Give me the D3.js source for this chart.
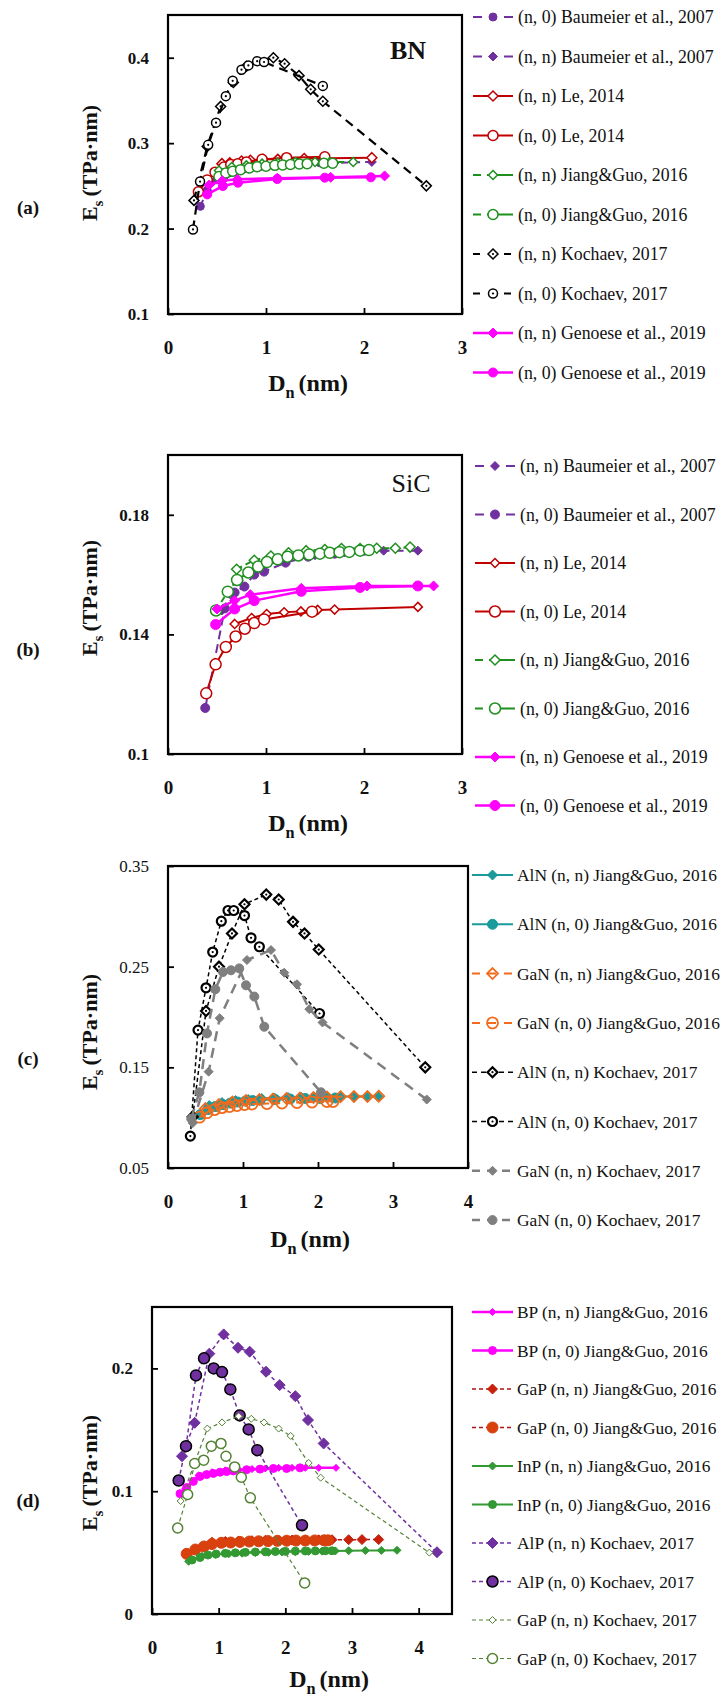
<!DOCTYPE html>
<html>
<head>
<meta charset="utf-8">
<script src="https://cdn.jsdelivr.net/npm/d3@7"></script>
<style>
  body { margin: 0; background: #fff; }
  svg text { font-family: "Liberation Serif", "DejaVu Serif", serif; fill: #111; }
</style>
</head>
<body>
<div id="chart"></div>
<script>
// ---- data: [Dn (nm), Es (TPa·nm)] ----

// (a) BN
const bnBaumeierN0 = [[0.33,0.226],[0.40,0.245],[0.50,0.257],[0.62,0.265],[0.78,0.270],[0.95,0.273],[1.25,0.276],[1.55,0.277]];
const bnBaumeierNN = [[0.45,0.254],[0.60,0.263],[0.82,0.270],[1.10,0.274],[1.40,0.276],[1.70,0.277],[2.08,0.278]];
const bnLeNN = [[0.55,0.276],[0.63,0.277],[0.75,0.279],[0.84,0.280],[0.97,0.281],[1.12,0.281],[1.39,0.282],[2.08,0.283]];
const bnLeN0 = [[0.31,0.243],[0.40,0.257],[0.48,0.266],[0.57,0.272],[0.64,0.275],[0.71,0.276],[0.80,0.278],[0.96,0.281],[1.21,0.283],[1.60,0.284]];
const bnJiangNN = [[0.52,0.268],[0.65,0.272],[0.80,0.274],[0.96,0.276],[1.12,0.277],[1.30,0.278],[1.50,0.278],[1.65,0.278],[1.89,0.278]];
const bnJiangN0 = [[0.52,0.261],[0.59,0.265],[0.66,0.267],[0.74,0.269],[0.83,0.271],[0.91,0.2725],[1.00,0.273],[1.09,0.274],[1.17,0.2745],[1.25,0.275],[1.34,0.2757],[1.42,0.276],[1.59,0.2765],[1.68,0.2765]];
const bnKochaevNN = [[0.265,0.233],[0.40,0.296],[0.537,0.343],[0.667,0.371],[0.80,0.390],[1.075,0.400],[1.19,0.393],[1.337,0.379],[1.456,0.363],[1.58,0.349],[2.636,0.250]];
const bnKochaevN0 = [[0.255,0.199],[0.327,0.255],[0.41,0.298],[0.49,0.324],[0.59,0.355],[0.66,0.373],[0.75,0.386],[0.82,0.391],[0.91,0.396],[0.98,0.395],[1.58,0.367]];
const bnGenoeseNN = [[0.42,0.251],[0.554,0.256],[0.71,0.2576],[1.115,0.259],[1.66,0.260],[2.21,0.2616]];
const bnGenoeseN0 = [[0.40,0.240],[0.56,0.2498],[0.714,0.2537],[1.115,0.258],[1.60,0.2596],[2.07,0.260]];

// (b) SiC
const sicBaumeierNN = [[0.55,0.148],[0.72,0.158],[0.95,0.163],[1.2,0.165],[1.5,0.1665],[1.8,0.1675],[2.2,0.168],[2.55,0.168]];
const sicBaumeierN0 = [[0.38,0.1154],[0.58,0.1487],[0.68,0.154],[0.78,0.156],[0.88,0.160],[0.98,0.161],[1.2,0.164],[1.43,0.166],[1.7,0.167],[2.0,0.168]];
const sicLeNN = [[0.68,0.1435],[0.853,0.1455],[1.007,0.1468],[1.185,0.1474],[1.356,0.1477],[1.527,0.1482],[1.70,0.1483],[2.55,0.1492]];
const sicLeN0 = [[0.39,0.1203],[0.486,0.130],[0.59,0.1358],[0.69,0.1393],[0.784,0.1419],[0.88,0.1438],[0.98,0.145],[1.47,0.1476]];
const sicJiangNN = [[0.70,0.1618],[0.88,0.1648],[1.05,0.1662],[1.23,0.1673],[1.41,0.168],[1.60,0.1684],[1.77,0.1687],[1.96,0.1687],[2.13,0.1688],[2.32,0.1688],[2.47,0.1692]];
const sicJiangN0 = [[0.49,0.148],[0.61,0.1543],[0.705,0.1582],[0.82,0.1607],[0.92,0.1627],[1.01,0.1642],[1.12,0.1651],[1.22,0.166],[1.33,0.1664],[1.44,0.1667],[1.55,0.167],[1.65,0.1673],[1.75,0.1675],[1.85,0.1676],[1.96,0.168],[2.05,0.1682]];
const sicGenoeseNN = [[0.50,0.1485],[0.68,0.1513],[0.84,0.1533],[1.36,0.1554],[2.03,0.1562],[2.71,0.1562]];
const sicGenoeseN0 = [[0.486,0.1433],[0.68,0.1485],[0.88,0.1513],[1.36,0.1544],[1.96,0.1557],[2.55,0.1562]];

// (c) AlN and GaN
const alnJiangNN = [[0.55,0.112],[0.72,0.115],[0.90,0.117],[1.07,0.118],[1.25,0.119],[1.42,0.1195],[1.60,0.120],[1.78,0.120],[1.95,0.1205],[2.13,0.1205],[2.30,0.121],[2.48,0.121],[2.65,0.121],[2.80,0.121]];
const alnJiangN0 = [[0.43,0.103],[0.53,0.108],[0.63,0.111],[0.73,0.113],[0.83,0.1145],[0.93,0.1155],[1.03,0.1165],[1.13,0.117],[1.23,0.1175],[1.43,0.118],[1.63,0.1185],[1.83,0.119],[2.03,0.119],[2.23,0.1195]];
const ganJiangNN = [[0.50,0.109],[0.68,0.113],[0.86,0.1155],[1.04,0.117],[1.22,0.118],[1.40,0.1185],[1.58,0.119],[1.76,0.1195],[1.94,0.120],[2.12,0.1205],[2.30,0.1208],[2.48,0.121],[2.66,0.121],[2.81,0.1213]];
const ganJiangN0 = [[0.42,0.1005],[0.52,0.105],[0.62,0.108],[0.72,0.110],[0.82,0.111],[0.92,0.112],[1.02,0.113],[1.12,0.1135],[1.32,0.114],[1.52,0.1145],[1.72,0.115],[1.92,0.1155],[2.12,0.116],[2.20,0.116]];
const alnKochaevNN = [[0.33,0.101],[0.507,0.206],[0.68,0.250],[0.853,0.283],[1.02,0.312],[1.31,0.3216],[1.476,0.3167],[1.667,0.2945],[1.82,0.283],[2.01,0.267],[3.43,0.150]];
const alnKochaevN0 = [[0.298,0.0817],[0.40,0.187],[0.507,0.229],[0.596,0.2645],[0.711,0.2952],[0.80,0.3058],[0.876,0.3058],[1.02,0.3008],[1.107,0.2787],[1.218,0.2698],[2.02,0.2035]];
const ganKochaevNN = [[0.33,0.0946],[0.542,0.1457],[0.689,0.1988],[1.053,0.2566],[1.373,0.2665],[1.55,0.244],[1.72,0.2325],[1.884,0.2078],[2.06,0.1946],[3.45,0.118]];
const ganKochaevN0 = [[0.31,0.099],[0.418,0.1252],[0.52,0.1837],[0.631,0.2276],[0.733,0.2447],[0.84,0.2464],[0.95,0.2483],[1.04,0.2315],[1.151,0.2203],[1.284,0.1903],[2.04,0.1252]];

// (d) phosphides
const bpJiangNN = [[0.50,0.102],[0.70,0.113],[0.90,0.1155],[1.10,0.117],[1.30,0.1175],[1.50,0.118],[1.70,0.1185],[1.90,0.119],[2.10,0.119],[2.30,0.119],[2.50,0.119],[2.76,0.119]];
const bpJiangN0 = [[0.42,0.098],[0.52,0.103],[0.62,0.108],[0.72,0.112],[0.82,0.1135],[0.92,0.1145],[1.02,0.1155],[1.12,0.116],[1.22,0.1165],[1.42,0.1175],[1.62,0.118],[1.82,0.1185],[2.02,0.1185],[2.22,0.119]];
const gapJiangNN = [[0.90,0.0585],[1.10,0.059],[1.30,0.0595],[1.50,0.0597],[1.70,0.060],[1.90,0.060],[2.10,0.0602],[2.30,0.0603],[2.50,0.0604],[2.70,0.0605],[2.95,0.0605],[3.15,0.0606],[3.40,0.0606]];
const gapJiangN0 = [[0.52,0.049],[0.65,0.0525],[0.78,0.055],[0.90,0.057],[1.04,0.058],[1.18,0.0582],[1.32,0.0587],[1.46,0.059],[1.60,0.0592],[1.74,0.0594],[1.88,0.0596],[2.02,0.0597],[2.16,0.0598],[2.30,0.0598],[2.44,0.0599],[2.58,0.060],[2.64,0.060]];
const inpJiangNN = [[0.55,0.0429],[0.75,0.047],[0.95,0.0485],[1.15,0.049],[1.35,0.0495],[1.55,0.050],[1.75,0.0502],[1.95,0.0505],[2.15,0.0508],[2.35,0.051],[2.55,0.0512],[2.75,0.0514],[2.95,0.0515],[3.20,0.0517],[3.44,0.0518],[3.675,0.0519]];
const inpJiangN0 = [[0.60,0.044],[0.72,0.046],[0.84,0.048],[0.96,0.0488],[1.10,0.0494],[1.25,0.0498],[1.40,0.0502],[1.55,0.0505],[1.70,0.0507],[1.85,0.0509],[2.00,0.051],[2.15,0.0512],[2.30,0.0513],[2.45,0.0514],[2.60,0.0515],[2.70,0.0515]];
const alpKochaevNN = [[0.45,0.1285],[0.64,0.1557],[0.86,0.212],[1.075,0.2277],[1.29,0.2168],[1.465,0.2136],[1.71,0.1973],[1.915,0.1864],[2.15,0.1774],[2.34,0.1579],[2.575,0.1389],[4.275,0.0503]];
const alpKochaevN0 = [[0.40,0.1087],[0.51,0.1367],[0.66,0.1943],[0.78,0.2082],[0.925,0.200],[1.05,0.197],[1.175,0.1829],[1.315,0.1617],[1.45,0.1503],[1.58,0.1334],[2.25,0.0723]];
const gapKochaevNN = [[0.43,0.092],[0.83,0.151],[1.05,0.156],[1.30,0.161],[1.49,0.159],[1.68,0.156],[1.90,0.151],[2.08,0.145],[2.35,0.123],[2.53,0.111],[4.16,0.050]];
const gapKochaevN0 = [[0.385,0.070],[0.535,0.0973],[0.64,0.1226],[0.775,0.1253],[0.89,0.1367],[1.035,0.1389],[1.11,0.1285],[1.24,0.1198],[1.34,0.1114],[1.475,0.0946],[2.29,0.0253]];

// ---- colours ----
const purple = '#7030a0', darkRed = '#c00000', green = '#1f8f1f', magenta = '#ff00ff';
const teal = '#1a9a9a', orange = '#f26b1d', grey = '#7f7f7f', inpGreen = '#339933', olive = '#548235';

const svg = d3.select('#chart').append('svg')
    .attr('width', 720)
    .attr('height', 1697);

function markerPath(shape, r) {
    if (shape === 'diamond') return `M0,${-r}L${r},0L0,${r}L${-r},0Z`;
    return d3.symbol().type(d3.symbolCircle).size(Math.PI * r * r)();
}

function drawMarker(g, cx, cy, s) {
    g.append('path')
        .attr('transform', `translate(${cx},${cy})`)
        .attr('d', markerPath(s.shape, s.r))
        .attr('fill', s.fill)
        .attr('stroke', s.stroke || s.color)
        .attr('stroke-width', s.sw || 1);
    if (s.dot) {
        g.append('circle').attr('cx', cx).attr('cy', cy).attr('r', 1.1).attr('fill', s.stroke || s.color);
    }
}

// title with a subscript: main letter, subscript, then the unit
function subTitle(sel, main, sub, rest, size) {
    sel.append('tspan').text(main);
    sel.append('tspan').attr('dy', size * 0.28).style('font-size', (size * 0.68) + 'px').text(sub);
    sel.append('tspan').attr('dy', -size * 0.28).attr('dx', 4).text(rest);
}

function drawPanel(p) {
    const g = svg.append('g');
    const x = d3.scaleLinear().domain(p.xDomain).range([p.left, p.right]);
    const y = d3.scaleLinear().domain(p.yDomain).range([p.bottom, p.top]);

    // axes (ticks point inward)
    const xAxis = g.append('g')
        .attr('transform', `translate(0,${p.bottom})`)
        .call(d3.axisBottom(x).tickValues(p.xTicks).tickSize(-6).tickPadding(27).tickFormat(d3.format('d')));
    const yAxis = g.append('g')
        .attr('transform', `translate(${p.left},0)`)
        .call(d3.axisLeft(y).tickValues(p.yTicks).tickSize(-6).tickPadding(19).tickFormat(d => d === 0 ? '0' : String(+d.toFixed(3))));
    [xAxis, yAxis].forEach(a => {
        a.select('.domain').remove();
        a.selectAll('.tick line').attr('stroke', '#000').attr('stroke-width', 1.8);
    });
    xAxis.selectAll('text').style('font-size', '19px').style('font-weight', 'bold').attr('fill', '#111');
    yAxis.selectAll('text').style('font-size', '17px').style('font-weight', p.yTickWeight || 'bold').attr('fill', '#111');

    // frame
    g.append('rect')
        .attr('x', p.left).attr('y', p.top)
        .attr('width', p.right - p.left).attr('height', p.bottom - p.top)
        .attr('fill', 'none').attr('stroke', '#000').attr('stroke-width', 2.2);

    const line = d3.line().x(d => x(d[0])).y(d => y(d[1]));

    // series
    p.series.forEach(s => {
        g.append('path')
            .attr('d', line(s.data))
            .attr('fill', 'none')
            .attr('stroke', s.color)
            .attr('stroke-width', s.lw)
            .attr('stroke-dasharray', s.dash || null);
        s.data.forEach(d => drawMarker(g, x(d[0]), y(d[1]), s));
    });

    // legend
    p.series.forEach((s, i) => {
        const ly = p.legY0 + i * p.legStep;
        g.append('line')
            .attr('x1', p.legX0).attr('x2', p.legX1)
            .attr('y1', ly).attr('y2', ly)
            .attr('stroke', s.color).attr('stroke-width', s.lw)
            .attr('stroke-dasharray', s.legDash || s.dash || null);
        drawMarker(g, (p.legX0 + p.legX1) / 2, ly, s);
        g.append('text')
            .attr('x', p.legTx).attr('y', ly).attr('dy', '0.35em')
            .style('font-size', p.legFont + 'px')
            .text(s.name);
    });

    // in-plot material label
    if (p.material) {
        g.append('text')
            .attr('x', p.matX).attr('y', p.matY)
            .attr('text-anchor', 'middle')
            .style('font-size', '26px').style('font-weight', p.matWeight)
            .text(p.material);
    }

    // axis titles
    const yl = g.append('text')
        .attr('transform', `translate(97,${p.yLabelY}) rotate(-90)`)
        .attr('text-anchor', 'middle')
        .style('font-size', '22px').style('font-weight', 'bold');
    subTitle(yl, 'E', 's', '(TPa·nm)', 22);

    const xl = g.append('text')
        .attr('x', p.xLabelX).attr('y', p.bottom + p.xLabelDy)
        .attr('text-anchor', 'middle')
        .style('font-size', '24px').style('font-weight', 'bold');
    subTitle(xl, 'D', 'n', '(nm)', 24);

    g.append('text')
        .attr('x', 28).attr('y', p.tagY).attr('dy', '0.35em')
        .attr('text-anchor', 'middle')
        .style('font-size', '19px').style('font-weight', 'bold')
        .text(p.tag);
}

// (a) BN
drawPanel({
    tag: '(a)', tagY: 207, material: 'BN', matX: 408, matY: 59, matWeight: 'bold',
    left: 168, right: 462, top: 15, bottom: 314,
    xDomain: [0, 3], yDomain: [0.1, 0.45], xTicks: [0, 1, 2, 3], yTicks: [0.1, 0.2, 0.3, 0.4],
    yLabelY: 163, xLabelX: 308, xLabelDy: 77,
    legX0: 473, legX1: 513, legTx: 518, legY0: 17, legStep: 39.5, legFont: 17.8,
    series: [
        { name: '(n, 0) Baumeier et al., 2007', data: bnBaumeierN0, color: purple, lw: 2, dash: '7,5', legDash: '9,22', shape: 'circle', r: 4, fill: purple },
        { name: '(n, n) Baumeier et al., 2007', data: bnBaumeierNN, color: purple, lw: 2, dash: '7,5', legDash: '9,22', shape: 'diamond', r: 4.5, fill: purple },
        { name: '(n, n) Le, 2014', data: bnLeNN, color: darkRed, lw: 2, shape: 'diamond', r: 5, fill: '#fff', sw: 1.5 },
        { name: '(n, 0) Le, 2014', data: bnLeN0, color: darkRed, lw: 2, shape: 'circle', r: 5, fill: '#fff', sw: 1.5 },
        { name: '(n, n) Jiang&Guo, 2016', data: bnJiangNN, color: green, lw: 2, dash: '6,4', legDash: '8,6,30', shape: 'diamond', r: 4.5, fill: '#fff', sw: 1.5 },
        { name: '(n, 0) Jiang&Guo, 2016', data: bnJiangN0, color: green, lw: 2, dash: '6,4', legDash: '8,6,30', shape: 'circle', r: 5, fill: '#fff', sw: 1.5 },
        { name: '(n, n) Kochaev, 2017', data: bnKochaevNN, color: '#000', lw: 2.2, dash: '9,6', legDash: '7,24', shape: 'diamond', r: 5, fill: '#fff', sw: 1.5, dot: true },
        { name: '(n, 0) Kochaev, 2017', data: bnKochaevN0, color: '#000', lw: 2.2, dash: '9,6', legDash: '7,24', shape: 'circle', r: 4.5, fill: '#fff', sw: 1.5, dot: true },
        { name: '(n, n) Genoese et al., 2019', data: bnGenoeseNN, color: magenta, lw: 2.5, shape: 'diamond', r: 5, fill: magenta },
        { name: '(n, 0) Genoese et al., 2019', data: bnGenoeseN0, color: magenta, lw: 2.5, shape: 'circle', r: 4.5, fill: magenta }
    ]
});

// (b) SiC
drawPanel({
    tag: '(b)', tagY: 649, material: 'SiC', matX: 411, matY: 492, matWeight: 'normal',
    left: 168, right: 462, top: 455, bottom: 754,
    xDomain: [0, 3], yDomain: [0.1, 0.2], xTicks: [0, 1, 2, 3], yTicks: [0.1, 0.14, 0.18],
    yLabelY: 598, xLabelX: 308, xLabelDy: 77,
    legX0: 475, legX1: 515, legTx: 520, legY0: 466, legStep: 48.5, legFont: 17.8,
    series: [
        { name: '(n, n) Baumeier et al., 2007', data: sicBaumeierNN, color: purple, lw: 2, dash: '9,5', legDash: '9,22', shape: 'diamond', r: 4.5, fill: purple },
        { name: '(n, 0) Baumeier et al., 2007', data: sicBaumeierN0, color: purple, lw: 2, dash: '9,5', legDash: '9,22', shape: 'circle', r: 4.5, fill: purple },
        { name: '(n, n) Le, 2014', data: sicLeNN, color: darkRed, lw: 2, shape: 'diamond', r: 4.5, fill: '#fff', sw: 1.5 },
        { name: '(n, 0) Le, 2014', data: sicLeN0, color: darkRed, lw: 2, shape: 'circle', r: 5.5, fill: '#fff', sw: 1.5 },
        { name: '(n, n) Jiang&Guo, 2016', data: sicJiangNN, color: green, lw: 2, dash: '6,4', legDash: '8,6,30', shape: 'diamond', r: 5, fill: '#fff', sw: 1.5 },
        { name: '(n, 0) Jiang&Guo, 2016', data: sicJiangN0, color: green, lw: 2, dash: '6,4', legDash: '8,6,30', shape: 'circle', r: 5.5, fill: '#fff', sw: 1.5 },
        { name: '(n, n) Genoese et al., 2019', data: sicGenoeseNN, color: magenta, lw: 2.5, shape: 'diamond', r: 5, fill: magenta },
        { name: '(n, 0) Genoese et al., 2019', data: sicGenoeseN0, color: magenta, lw: 2.5, shape: 'circle', r: 5, fill: magenta }
    ]
});

// (c) AlN / GaN
drawPanel({
    tag: '(c)', tagY: 1058, yTickWeight: 'normal',
    left: 168, right: 468, top: 866, bottom: 1168,
    xDomain: [0, 4], yDomain: [0.05, 0.35], xTicks: [0, 1, 2, 3, 4], yTicks: [0.05, 0.15, 0.25, 0.35],
    yLabelY: 1032, xLabelX: 310, xLabelDy: 79,
    legX0: 472, legX1: 513, legTx: 517, legY0: 875, legStep: 49.3, legFont: 17.4,
    series: [
        { name: 'AlN (n, n) Jiang&Guo, 2016', data: alnJiangNN, color: teal, lw: 2, shape: 'diamond', r: 5, fill: teal },
        { name: 'AlN (n, 0) Jiang&Guo, 2016', data: alnJiangN0, color: teal, lw: 2, shape: 'circle', r: 5, fill: teal },
        { name: 'GaN (n, n) Jiang&Guo, 2016', data: ganJiangNN, color: orange, lw: 2, dash: '6,5', legDash: '8,8', shape: 'diamond', r: 5.5, fill: 'none', sw: 1.8 },
        { name: 'GaN (n, 0) Jiang&Guo, 2016', data: ganJiangN0, color: orange, lw: 2, dash: '6,5', legDash: '8,8', shape: 'circle', r: 5.5, fill: 'none', sw: 1.8 },
        { name: 'AlN (n, n) Kochaev, 2017', data: alnKochaevNN, color: '#000', lw: 1.5, dash: '4,3', legDash: '5,4', shape: 'diamond', r: 5, fill: '#fff', sw: 2.2, dot: true },
        { name: 'AlN (n, 0) Kochaev, 2017', data: alnKochaevN0, color: '#000', lw: 1.5, dash: '4,3', legDash: '5,4', shape: 'circle', r: 4.5, fill: '#fff', sw: 2.2, dot: true },
        { name: 'GaN (n, n) Kochaev, 2017', data: ganKochaevNN, color: grey, lw: 2.5, dash: '10,7', legDash: '8,7', shape: 'diamond', r: 4.5, fill: grey },
        { name: 'GaN (n, 0) Kochaev, 2017', data: ganKochaevN0, color: grey, lw: 2.5, dash: '10,7', legDash: '8,7', shape: 'circle', r: 4.5, fill: grey }
    ]
});

// (d) phosphides
drawPanel({
    tag: '(d)', tagY: 1500,
    left: 152, right: 452, top: 1307, bottom: 1614,
    xDomain: [0, 4.5], yDomain: [0, 0.25], xTicks: [0, 1, 2, 3, 4], yTicks: [0, 0.1, 0.2],
    yLabelY: 1473, xLabelX: 329, xLabelDy: 73,
    legX0: 472, legX1: 513, legTx: 517, legY0: 1312, legStep: 38.5, legFont: 17.4,
    series: [
        { name: 'BP (n, n) Jiang&Guo, 2016', data: bpJiangNN, color: magenta, lw: 2.5, shape: 'diamond', r: 3.5, fill: magenta },
        { name: 'BP (n, 0) Jiang&Guo, 2016', data: bpJiangN0, color: magenta, lw: 2.5, shape: 'circle', r: 4, fill: magenta },
        { name: 'GaP (n, n) Jiang&Guo, 2016', data: gapJiangNN, color: '#b01010', lw: 1.5, dash: '4,3', shape: 'diamond', r: 5, fill: '#c8200a', stroke: '#c8200a' },
        { name: 'GaP (n, 0) Jiang&Guo, 2016', data: gapJiangN0, color: '#b01010', lw: 1.5, dash: '4,3', shape: 'circle', r: 5.5, fill: '#d8400e', stroke: '#d8400e' },
        { name: 'InP (n, n) Jiang&Guo, 2016', data: inpJiangNN, color: inpGreen, lw: 2, shape: 'diamond', r: 4, fill: inpGreen },
        { name: 'InP (n, 0) Jiang&Guo, 2016', data: inpJiangN0, color: inpGreen, lw: 2, shape: 'circle', r: 4, fill: inpGreen },
        { name: 'AlP (n, n) Kochaev, 2017', data: alpKochaevNN, color: purple, lw: 1.5, dash: '4,3', shape: 'diamond', r: 5.5, fill: purple },
        { name: 'AlP (n, 0) Kochaev, 2017', data: alpKochaevN0, color: purple, lw: 1.5, dash: '4,3', shape: 'circle', r: 5.5, fill: purple, stroke: '#000', sw: 1.5 },
        { name: 'GaP (n, n) Kochaev, 2017', data: gapKochaevNN, color: olive, lw: 1.2, dash: '4,3', shape: 'diamond', r: 3.5, fill: '#fff', sw: 1 },
        { name: 'GaP (n, 0) Kochaev, 2017', data: gapKochaevN0, color: olive, lw: 1.2, dash: '4,3', shape: 'circle', r: 5, fill: '#fff', sw: 1.5 }
    ]
});
</script>
</body>
</html>
